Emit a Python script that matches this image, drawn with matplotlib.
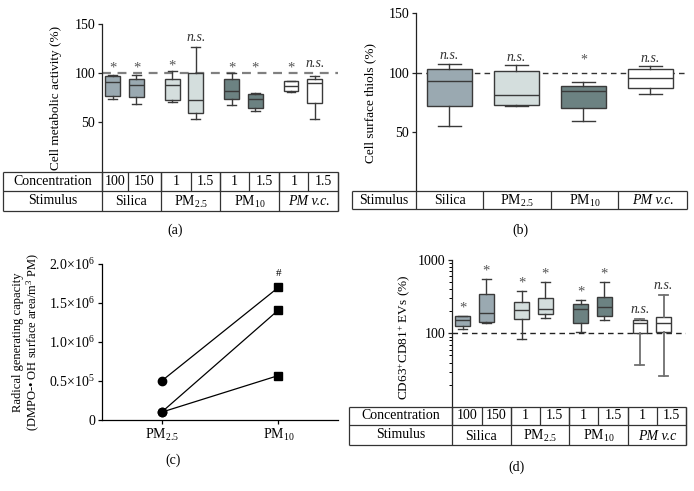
import matplotlib
matplotlib.use("Agg")
import matplotlib.pyplot as plt
import numpy as np

plt.rcParams['font.family'] = ['Liberation Serif', 'DejaVu Serif']
plt.rcParams['mathtext.fontset'] = 'custom'
plt.rcParams['mathtext.rm'] = 'Liberation Serif'
plt.rcParams['mathtext.it'] = 'Liberation Serif:italic'

W, H = 694, 491

# ---------------- data ----------------
groups = ["Silica", "PM$_{2.5}$", "PM$_{10}$", "PM v.c."]
conc_labels = ["100", "150", "1", "1.5", "1", "1.5", "1", "1.5"]

# panel (a) cell metabolic activity (%)
a_med = [91, 88, 87.5, 72.5, 82, 73.5, 86.7, 89.5]
a_q1 = [77, 75.5, 72, 59.5, 73, 64, 82, 69]
a_q3 = [97, 94, 93.5, 100, 94, 79, 92, 93.5]
a_lo = [73.5, 68, 70, 53.5, 67, 61.5, 81, 53.5]
a_hi = [97.5, 97.6, 102, 127, 100, 80, 92, 96.5]
a_sig = ["*", "*", "*", "n.s.", "*", "*", "*", "n.s."]

# panel (b) cell surface thiols (%)
b_med = [92.7, 81.4, 84.5, 95.2]
b_q1 = [71.5, 73, 70.4, 87.3]
b_q3 = [103.4, 101, 88.5, 103]
b_lo = [54.6, 72, 59, 81.7]
b_hi = [107.6, 106, 92.4, 105.6]
b_sig = ["n.s.", "n.s.", "*", "n.s."]

# panel (c) radical generating capacity
c_cats = ["PM$_{2.5}$", "PM$_{10}$"]
c_pm25 = [0.5e6, 0.1e6, 0.1e6]
c_pm10 = [1.7e6, 1.41e6, 0.57e6]
c_yticks = [0, 0.5e6, 1.0e6, 1.5e6, 2.0e6]
c_yticklabels = ["0", "0.5×10$^{5}$", "1.0×10$^{6}$", "1.5×10$^{6}$", "2.0×10$^{6}$"]

# panel (d) CD63+CD81+ EVs (%)
d_med = [153, 189, 205, 216, 212, 228, 138, 138]
d_q1 = [127, 144, 156, 185, 137, 170, 100, 105]
d_q3 = [170, 345, 266, 299, 248, 309, 153, 166]
d_lo = [116, 138, 84, 160, 104, 153, 36.8, 26]
d_hi = [174, 552, 376, 508, 286, 502, 158, 338]
d_sig = ["*", "*", "*", "*", "*", "*", "n.s.", "n.s."]

group_colors = ["#9aa9b1", "#d4dedd", "#6c8282", "#ffffff"]

fig = plt.figure(figsize=(W / 100, H / 100), dpi=100)


def rect(l, t, r, b):
    return [l / W, 1 - b / H, (r - l) / W, (b - t) / H]


def stats(med, q1, q3, lo, hi):
    return [dict(med=m, q1=a, q3=b, whislo=c, whishi=d, fliers=[])
            for m, a, b, c, d in zip(med, q1, q3, lo, hi)]


def style_boxes(res, colors, edge="#3a3a3a"):
    for patch, col in zip(res['boxes'], colors):
        patch.set_facecolor(col)
        patch.set_edgecolor(edge)
        patch.set_linewidth(1.0)
    for k in ('whiskers', 'caps', 'medians'):
        for ln in res[k]:
            ln.set_color(edge)
            ln.set_linewidth(1.0)


def only_left(ax):
    for s in ('top', 'right', 'bottom'):
        ax.spines[s].set_visible(False)
    ax.spines['left'].set_color('#222222')
    ax.spines['left'].set_linewidth(0.9)
    ax.set_xticks([])
    ax.tick_params(axis='y', length=3, width=0.9, labelsize=10, pad=2, color='#222222')
    ax.patch.set_alpha(0)


pair_pos = []
for g in range(4):
    pair_pos += [g - 0.2, g + 0.2]
pair_colors = [c for c in group_colors for _ in range(2)]

# ---------------- panel (a) ----------------
axa = fig.add_axes(rect(102, 24, 338, 171))
res = axa.bxp(stats(a_med, a_q1, a_q3, a_lo, a_hi), positions=pair_pos, widths=0.25,
              capwidths=0.15, patch_artist=True, showfliers=False, manage_ticks=False)
style_boxes(res, pair_colors)
axa.set_xlim(-0.38, 3.59)
axa.set_ylim(0, 150)
axa.set_yticks([50, 100, 150])
axa.axhline(100, color='#808080', lw=1.6, ls=(0, (4, 3)), zorder=0.5)
only_left(axa)
for x, hi, s in zip(pair_pos, a_hi, a_sig):
    y = max(hi, 100)
    if s == "*":
        axa.annotate(s, (x, y), xytext=(0, -1), textcoords='offset points', ha='center',
                     va='bottom', fontsize=10.5, color='#555555')
    else:
        axa.annotate(s, (x, y), xytext=(0, 2), textcoords='offset points', ha='center',
                     va='bottom', fontsize=10, style='italic', color='#333333')

# ---------------- panel (b) ----------------
axb = fig.add_axes(rect(416, 13.3, 687, 191))
res = axb.bxp(stats(b_med, b_q1, b_q3, b_lo, b_hi), positions=range(4), widths=0.67,
              capwidths=0.33, patch_artist=True, showfliers=False, manage_ticks=False)
style_boxes(res, group_colors)
axb.set_xlim(-0.5, 3.545)
axb.set_ylim(0, 150)
axb.set_yticks([50, 100, 150])
axb.axhline(100, color='#333333', lw=1.0, ls=(0, (4, 3)), zorder=0.5)
only_left(axb)
for x, (hi, s) in enumerate(zip(b_hi, b_sig)):
    y = max(hi, 100)
    if s == "*":
        axb.annotate(s, (x, y), xytext=(0, 4), textcoords='offset points', ha='center',
                     va='bottom', fontsize=10, color='#555555')
    else:
        axb.annotate(s, (x, y), xytext=(0, 1), textcoords='offset points', ha='center',
                     va='bottom', fontsize=10, style='italic', color='#333333')

# ---------------- panel (c) ----------------
axc = fig.add_axes(rect(102, 264, 338, 420))
for y0, y1 in zip(c_pm25, c_pm10):
    axc.plot([0, 1], [y0, y1], color='black', lw=0.9, zorder=2)
axc.plot([0] * len(c_pm25), c_pm25, 'o', color='black', ms=6, zorder=3)
axc.plot([1] * len(c_pm10), c_pm10, 's', color='black', ms=6, zorder=3)
axc.set_xlim(-0.51, 1.51)
axc.set_ylim(0, 2.0e6)
axc.set_yticks(c_yticks)
axc.set_yticklabels(c_yticklabels)
axc.set_xticks([0, 1])
axc.set_xticklabels(c_cats)
for s in ('top', 'right'):
    axc.spines[s].set_visible(False)
for s in ('left', 'bottom'):
    axc.spines[s].set_linewidth(0.9)
axc.tick_params(length=3, width=0.9, labelsize=10, pad=2)
axc.patch.set_alpha(0)
axc.annotate("#", (1, max(c_pm10)), xytext=(0, 7), textcoords='offset points',
             ha='center', va='bottom', fontsize=8)

# ---------------- panel (d) ----------------
axd = fig.add_axes(rect(452, 260, 686, 406.7))
axd.set_yscale('log')
res = axd.bxp(stats(d_med, d_q1, d_q3, d_lo, d_hi), positions=pair_pos, widths=0.25,
              capwidths=0.15, patch_artist=True, showfliers=False, manage_ticks=False)
style_boxes(res, pair_colors)
for i in (6, 7):
    for ln in res['whiskers'][2 * i:2 * i + 2] + res['caps'][2 * i:2 * i + 2]:
        ln.set_color('#707070')
        ln.set_linewidth(1.3)
axd.set_xlim(-0.38, 3.58)
axd.set_ylim(10, 1000)
axd.set_yticks([100, 1000])
axd.set_yticklabels(["100", "1000"])
axd.axhline(100, color='#222222', lw=1.0, ls=(0, (4, 3)), zorder=0.5)
only_left(axd)
axd.tick_params(axis='y', which='minor', length=2, width=0.7)
for x, hi, s in zip(pair_pos, d_hi, d_sig):
    if s == "*":
        axd.annotate(s, (x, hi), xytext=(0, 1), textcoords='offset points', ha='center',
                     va='bottom', fontsize=10.5, color='#555555')
    else:
        axd.annotate(s, (x, hi), xytext=(0, 2), textcoords='offset points', ha='center',
                     va='bottom', fontsize=10, style='italic', color='#333333')

# ---------------- tables & labels (overlay in pixel coords) ----------------
ov = fig.add_axes([0, 0, 1, 1])
ov.set_xlim(0, W)
ov.set_ylim(H, 0)
ov.axis('off')
ov.patch.set_alpha(0)
LC = '#333333'
LW = 0.9
TFS = 10


def hline(y, x0, x1):
    ov.plot([x0, x1], [y, y], color=LC, lw=LW, solid_capstyle='butt')


def vline(x, y0, y1):
    ov.plot([x, x], [y0, y1], color=LC, lw=LW, solid_capstyle='butt')


def two_row_table(left, cols, top, mid, bot, grp_labels, last_italic_label):
    right = cols[-1]
    for y in (top, mid, bot):
        hline(y, left, right)
    vline(left, top, bot)
    for x in cols[:-1]:
        vline(x, top, mid)
    for x in cols[::2]:
        vline(x, top, bot)
    vline(right, top, bot)
    ov.text((left + cols[0]) / 2, (top + mid) / 2, "Concentration", ha='center', va='center', fontsize=TFS)
    ov.text((left + cols[0]) / 2, (mid + bot) / 2, "Stimulus", ha='center', va='center', fontsize=TFS)
    for i, lab in enumerate(conc_labels):
        ov.text((cols[i] + cols[i + 1]) / 2, (top + mid) / 2, lab, ha='center', va='center', fontsize=TFS)
    for g, lab in enumerate(grp_labels):
        x = (cols[2 * g] + cols[2 * g + 2]) / 2
        if g == 3:
            ov.text(x, (mid + bot) / 2 + 1, last_italic_label, ha='center', va='center',
                    fontsize=TFS, style='italic')
        else:
            ov.text(x, (mid + bot) / 2 + 1, lab, ha='center', va='center', fontsize=TFS)


# table (a)
two_row_table(3.5, [102, 127.7, 161, 190.7, 220, 249.3, 279.3, 308.3, 338.3],
              172, 190.5, 210.7, groups, "PM v.c.")
# table (d)
two_row_table(349, [452, 481.7, 511, 540, 569, 598, 628, 657, 686],
              406.7, 425, 445, groups, "PM v.c")

# table (b)
bcols = [416, 483.5, 551, 618.5, 687]
for y in (190.7, 209):
    hline(y, 352, 687)
for x in [352] + bcols:
    vline(x, 190.7, 209)
ov.text((352 + 416) / 2, 200, "Stimulus", ha='center', va='center', fontsize=TFS)
for g, lab in enumerate(groups):
    x = (bcols[g] + bcols[g + 1]) / 2
    ov.text(x, 200.8, lab, ha='center', va='center', fontsize=TFS,
            style='italic' if g == 3 else 'normal')

# axis labels
ov.text(56, 98, "Cell metabolic activity (%)", rotation=90, ha='center', va='center', fontsize=9.5)
ov.text(370, 103, "Cell surface thiols (%)", rotation=90, ha='center', va='center', fontsize=9.5)
ov.text(27, 342, "Radical generating capacity\n(DMPO-• OH surface area/m$^{3}$ PM)",
        rotation=90, ha='center', va='center', fontsize=9, linespacing=1.0)
ov.text(405, 337, "CD63$^{+}$CD81$^{+}$ EVs (%)", rotation=90, ha='center', va='center', fontsize=9.5)

# captions
ov.text(175, 230, "(a)", ha='center', va='center', fontsize=10)
ov.text(520, 230, "(b)", ha='center', va='center', fontsize=10)
ov.text(173, 460, "(c)", ha='center', va='center', fontsize=10)
ov.text(517, 467, "(d)", ha='center', va='center', fontsize=10)

fig.savefig("out.png", dpi=100)
